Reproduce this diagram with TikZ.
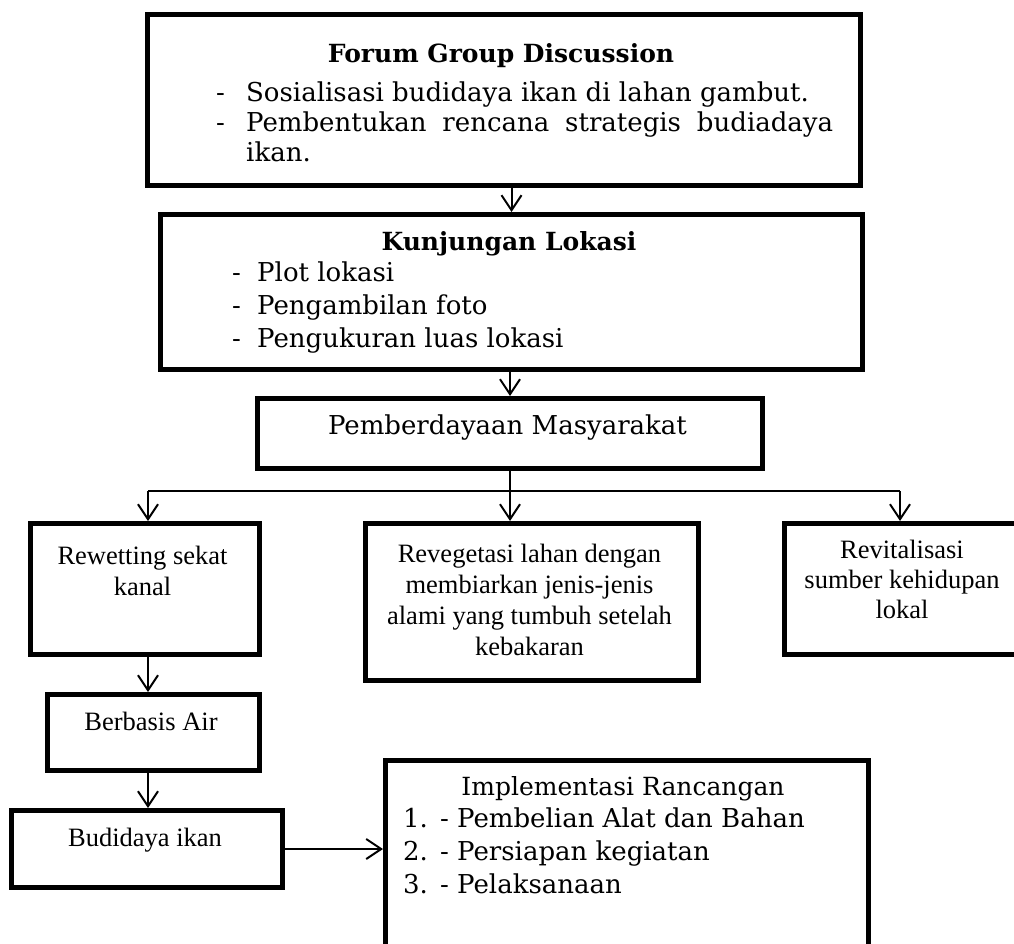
\documentclass[tikz,border=0pt]{standalone}
\usepackage{fontspec}
\setmainfont{Liberation Serif}
\newfontfamily\bkfont{DejaVu Serif}
\usetikzlibrary{arrows.meta}
\newcommand\mlines[2]{\parbox[t]{#1}{\centering #2}}
\newcommand\llines[2]{\parbox[t]{#1}{\raggedright #2}}
\begin{document}
\begin{tikzpicture}[x=1pt,y=-1pt,
  box/.style={draw, line width=5pt, rectangle, inner sep=0pt, anchor=north west},
  arr/.style={line width=2pt, -{Straight Barb[length=15pt,width=20pt]}},
  conn/.style={line width=1.5pt},
  bk/.style={font=\bkfont\fontsize{26}{30}\selectfont, inner sep=0pt},
  bkb/.style={font=\bkfont\bfseries\fontsize{25}{30}\selectfont, inner sep=0pt},
  tm/.style={font=\fontsize{26.5}{31}\selectfont, inner sep=0pt}]
\useasboundingbox (0,0) rectangle (1014,944);
\begin{scope}
\clip (0,0) rectangle (1014,944);
% boxes
\node[box, minimum width=713pt, minimum height=171pt] (fgd) at (145,12) {};
\node[box, minimum width=702pt, minimum height=155pt] (kunj) at (158,212) {};
\node[box, minimum width=505pt, minimum height=70pt] (pem) at (255,396) {};
\node[box, minimum width=229pt, minimum height=131pt] (rew) at (28,521) {};
\node[box, minimum width=333pt, minimum height=157pt] (rev) at (363,521) {};
\node[box, minimum width=240pt, minimum height=131pt] (rvt) at (782,521) {};
\node[box, minimum width=212pt, minimum height=76pt] (ber) at (45,692) {};
\node[box, minimum width=271pt, minimum height=77pt] (bud) at (9,808) {};
\node[box, minimum width=483pt, minimum height=210pt] (imp) at (383,758) {};
\end{scope}
% texts
\node[bkb, anchor=base] (fgdtitle) at (501,63) {Forum Group Discussion};
\node[bk, anchor=base west] (fgdlist) at (216,102) {\llines{620pt}{%
\makebox[30pt][l]{-}Sosialisasi budidaya ikan di lahan gambut.\\
\makebox[30pt][l]{-}\makebox[587pt][s]{Pembentukan rencana strategis budiadaya}\\
\hspace*{30pt}ikan.}};
\node[bkb, anchor=base] (kunjtitle) at (509,250) {Kunjungan Lokasi};
\node[bk, anchor=base west] (kunjlist) at (232,281) {\fontsize{26}{33}\selectfont\llines{500pt}{%
\makebox[25pt][l]{-}Plot lokasi\\
\makebox[25pt][l]{-}Pengambilan foto\\
\makebox[25pt][l]{-}Pengukuran luas lokasi}};
\node[bk, anchor=base] (pemtxt) at (507.5,434) {Pemberdayaan Masyarakat};
\node[tm, anchor=base] (rewtxt) at (142.5,564) {\mlines{220pt}{Rewetting sekat\\kanal}};
\node[tm, anchor=base] (revtxt) at (529.5,562) {\mlines{330pt}{Revegetasi lahan dengan\\membiarkan jenis-jenis\\alami yang tumbuh setelah\\kebakaran}};
\node[tm, anchor=base] (rvttxt) at (902,558) {\fontsize{26.5}{30}\selectfont\mlines{240pt}{Revitalisasi\\sumber kehidupan\\lokal}};
\node[tm, anchor=base] (bertxt) at (151,730) {Berbasis Air};
\node[tm, anchor=base] (budtxt) at (145,846) {Budidaya ikan};
\node[bk, anchor=base] (imptitle) at (623,795) {\fontsize{25}{30}\selectfont Implementasi Rancangan};
\node[bk, anchor=base west] (implist) at (403,827) {\fontsize{26}{33}\selectfont\llines{460pt}{%
\makebox[37pt][l]{1.}\makebox[17pt][l]{-}Pembelian Alat dan Bahan\\
\makebox[37pt][l]{2.}\makebox[17pt][l]{-}Persiapan kegiatan\\
\makebox[37pt][l]{3.}\makebox[17pt][l]{-}Pelaksanaan}};
% connectors
\coordinate (jl) at (148,491);
\coordinate (jr) at (900,491);
\coordinate (jm) at (pem.south |- jl);
\draw[arr] (fgd.south -| kunj.north) -- (kunj.north);
\draw[arr] (kunj.south -| pem.north) -- (pem.north);
\draw[arr] (pem.south) -- (pem.south |- rev.north);
\draw[conn] (jl) -- (jr);
\draw[arr] (jl) -- (jl |- rew.north);
\draw[arr] (jr) -- (jr |- rvt.north);
\draw[arr] (jl |- rew.south) -- (jl |- ber.north);
\draw[arr] (jl |- ber.south) -- (jl |- bud.north);
\draw[arr] (bud.east) -- (bud.east -| imp.west);
\end{tikzpicture}
\end{document}
